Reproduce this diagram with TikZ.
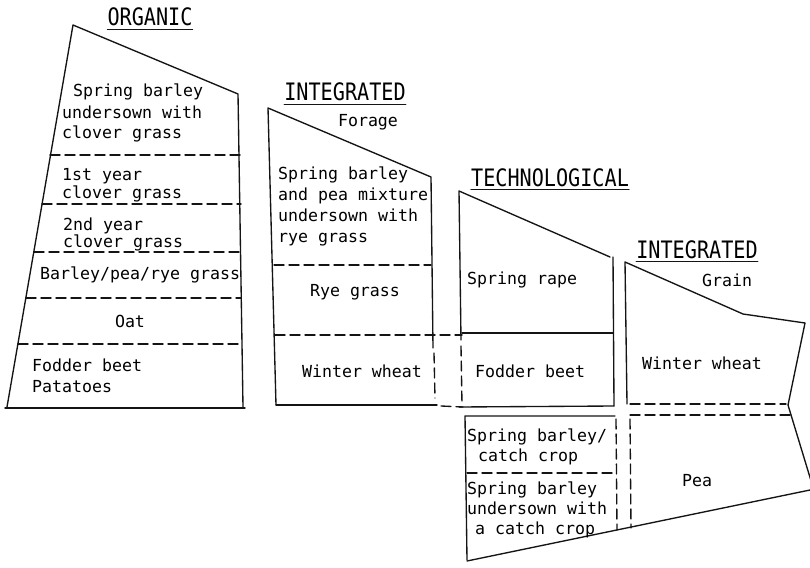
\documentclass[tikz,border=0pt]{standalone}
\usepackage{fontspec}
\newfontfamily\monofont{DejaVu Sans Mono}
\newfontfamily\titlefont[FakeStretch=0.84]{DejaVu Sans Mono}
\tikzset{
  ln/.style={line width=1.35pt, line cap=round, line join=round, draw=black!92},
  dsh/.style={ln, dash pattern=on 10pt off 5pt},
  txt/.style={font=\monofont\fontsize{16.6}{21}\selectfont, inner sep=0pt, anchor=west,
              text height=12pt, text depth=4pt, text=black},
  ctxt/.style={txt, anchor=center},
  ttl/.style={font=\titlefont\fontsize{24}{24}\selectfont, inner sep=0pt, anchor=base,
              text depth=0pt, text=black},
}
\newcommand{\ulin}[1]{\draw[ln, line width=1.1pt] ([yshift=-3pt]#1.south west) -- ([yshift=-3pt]#1.south east);}
\begin{document}
\begin{tikzpicture}[x=1pt,y=-1pt]
\useasboundingbox[fill=white] (0,0) rectangle (810,567);

% ---------- ORGANIC ----------
\node[ttl] (tOrg) at (150,26) {ORGANIC};
\ulin{tOrg}
\coordinate (oA) at (73,25);
\coordinate (oR) at (238,94);
\coordinate (oBR) at (243,407);
\coordinate (oBL) at (7,407);
\draw[ln] (oBL) -- (oA) -- (oR) -- (oBR);
\draw[ln] (5,408) -- (245,408);
\foreach \yy/\xx in {155/50, 204/42, 252/34, 298/26, 344/18}
  \draw[dsh] (\xx,\yy) -- (241,\yy);
\node[txt] (o1) at (73,93) {Spring barley};
\node[txt] (o2) at (62,114) {undersown with};
\node[txt] (o3) at (62,135) {clover grass};
\node[txt] (o4) at (62,176) {1st year};
\node[txt] (o5) at (62,194) {clover grass};
\node[txt] (o6) at (63,226) {2nd year};
\node[txt] (o7) at (63,243) {clover grass};
\node[txt] (o8) at (40,275) {Barley/pea/rye grass};
\node[ctxt] (o9) at (130,323) {Oat};
\node[txt] (o10) at (32,367) {Fodder beet};
\node[txt] (o11) at (32,388) {Patatoes};

% ---------- INTEGRATED Forage ----------
\node[ttl] (tFor) at (345,101) {INTEGRATED};
\ulin{tFor}
\coordinate (fA) at (268,108);
\coordinate (fR) at (431,177);
\coordinate (fBL) at (276,405);
\draw[ln] (fBL) -- (fA) -- (fR) -- (433,348);
\draw[dsh] (434,353) -- (435,398);
\draw[ln] (fBL) -- (437,405);
\draw[dsh] (441,406) -- (463,407);
\draw[dsh] (274,265) -- (431,265);
\draw[dsh] (275,335) -- (462,335);
\node[ctxt] (f0) at (368,122) {Forage};
\node[txt] (f1) at (278,175) {Spring barley};
\node[txt] (f2) at (278,196) {and pea mixture};
\node[txt] (f3) at (278,217) {undersown with};
\node[txt] (f4) at (278,238) {rye grass};
\node[ctxt] (f5) at (355,292) {Rye grass};
\node[ctxt] (f6) at (362,373) {Winter wheat};

% ---------- TECHNOLOGICAL ----------
\node[ttl] (tTec) at (550,186) {TECHNOLOGICAL};
\ulin{tTec}
\coordinate (tA) at (459,191);
\coordinate (tR) at (610,257);
\draw[ln] (461,340) -- (tA) -- (tR);
\draw[ln] (613,257) -- (614,406);
\draw[dsh] (461,346) -- (462,405);
\draw[ln] (462,333) -- (613,333);
\draw[ln] (459,407) -- (614,406);
% lower part
\draw[ln] (467,560) -- (465,416) -- (615,416);
\draw[dsh] (616,419) -- (617,530);
\draw[dsh] (467,473) -- (616,473);
\draw[ln] (467,561) -- (810,490);
\node[txt] (t1) at (467,280) {Spring rape};
\node[txt] (t2) at (475,373) {Fodder beet};
\node[txt] (t3) at (467,437) {Spring barley/};
\node[txt] (t4) at (478,457) {catch crop};
\node[txt] (t5) at (467,490) {Spring barley};
\node[txt] (t6) at (467,510) {undersown with};
\node[txt] (t7) at (475,530) {a catch crop};

% ---------- INTEGRATED Grain ----------
\node[ttl] (tGra) at (697,258) {INTEGRATED};
\ulin{tGra}
\coordinate (gA) at (625,262);
\draw[ln] (627,404) -- (gA) -- (743,314) -- (805,323) -- (788,405) -- (812,484);
\draw[dsh] (630,404) -- (786,404);
\draw[dsh] (630,415) -- (790,415);
\draw[dsh] (630,419) -- (631,528);
\node[ctxt] (g0) at (727,282) {Grain};
\node[ctxt] (g1) at (702,365) {Winter wheat};
\node[ctxt] (g2) at (697,482) {Pea};
\end{tikzpicture}
\end{document}
